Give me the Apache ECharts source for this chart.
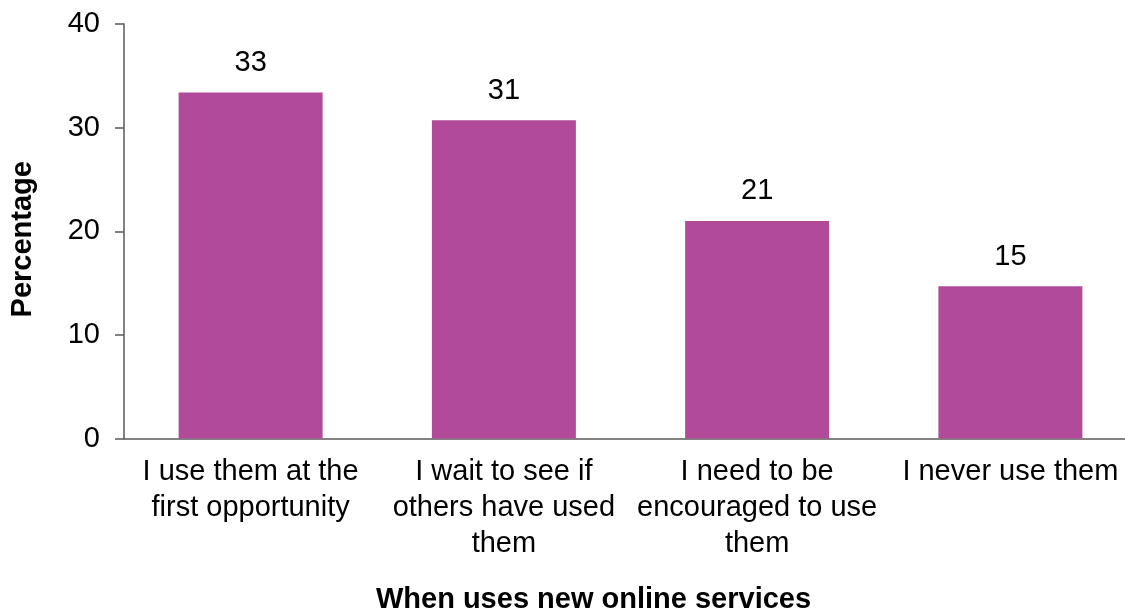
<!DOCTYPE html>
<html>
<head>
<meta charset="utf-8">
<script src="https://cdn.jsdelivr.net/npm/echarts@6/dist/echarts.min.js"></script>
<style>
  html, body { margin: 0; padding: 0; background: #ffffff; }
  #chart { width: 1125px; height: 610px; }
</style>
</head>
<body>
<div id="chart"></div>
<script>
// Categories (with line breaks as wrapped under the axis)
const categories = [
  'I use them at the\nfirst opportunity',
  'I wait to see if\nothers have used\nthem',
  'I need to be\nencouraged to use\nthem',
  'I never use them'
];
// Share of respondents, %
const values = [33.4, 30.7, 21.0, 14.7];
// Rounded labels shown above the bars
const valueLabels = ['33', '31', '21', '15'];
const yTicks = { min: 0, max: 40, interval: 10 };

const FONT = '"Liberation Sans", Arial, sans-serif';
const BAR = '#B14A98';
const AXIS = '#595959';

const chart = echarts.init(document.getElementById('chart'), null, { renderer: 'canvas' });
chart.setOption({
  animation: false,
  backgroundColor: '#ffffff',
  grid: {
    left: 124, top: 24, width: 1013, height: 414.5,
    containLabel: false, outerBoundsMode: 'none'
  },
  xAxis: {
    type: 'category',
    data: categories,
    name: 'When uses new online services',
    nameLocation: 'middle',
    nameGap: 147,
    nameTextStyle: {
      fontFamily: FONT, fontSize: 29, fontWeight: 'bold', color: '#000',
      padding: [0, 74, 0, 0]
    },
    axisLine: { show: true, lineStyle: { color: AXIS, width: 1.5 } },
    axisTick: { show: false },
    axisLabel: {
      interval: 0, margin: 15,
      fontFamily: FONT, fontSize: 29, lineHeight: 36, color: '#000'
    },
    splitLine: { show: false }
  },
  yAxis: {
    type: 'value',
    min: yTicks.min, max: yTicks.max, interval: yTicks.interval,
    name: 'Percentage',
    nameLocation: 'middle',
    nameGap: 87,
    nameRotate: 90,
    nameTextStyle: {
      fontFamily: FONT, fontSize: 29, fontWeight: 'bold', color: '#000',
      padding: [0, 16, 0, 0]
    },
    axisLine: { show: true, lineStyle: { color: AXIS, width: 1.5 } },
    axisTick: { show: true, inside: false, length: 9, lineStyle: { color: AXIS, width: 1.5 } },
    axisLabel: { margin: 24, fontFamily: FONT, fontSize: 29, color: '#000' },
    splitLine: { show: false }
  },
  series: [{
    type: 'bar',
    data: values,
    barWidth: 144,
    itemStyle: { color: BAR },
    label: {
      show: true, position: 'top', distance: 15,
      fontFamily: FONT, fontSize: 29, color: '#000',
      formatter: p => valueLabels[p.dataIndex]
    }
  }]
});
</script>
</body>
</html>
